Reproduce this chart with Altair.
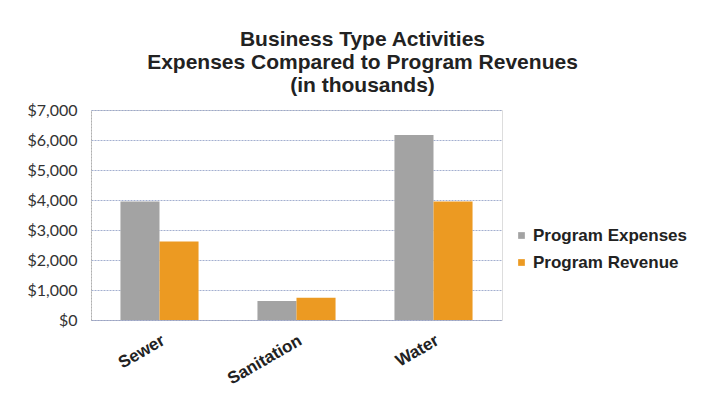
import altair as alt
import pandas as pd

categories = ["Sewer", "Sanitation", "Water"]
series = ["Program Expenses", "Program Revenue"]
expenses = [3950, 630, 6170]
revenue = [2620, 740, 3950]
y_ticks = [0, 1000, 2000, 3000, 4000, 5000, 6000, 7000]
colors = ["#A3A3A3", "#EC9A22"]

rows = []
for c, e, r in zip(categories, expenses, revenue):
    rows.append({"Activity": c, "Series": series[0], "Value": e})
    rows.append({"Activity": c, "Series": series[1], "Value": r})
df = pd.DataFrame(rows)

chart = (
    alt.Chart(df)
    .mark_bar()
    .encode(
        x=alt.X(
            "Activity:N",
            sort=categories,
            title=None,
            scale=alt.Scale(paddingInner=0.43, paddingOuter=0.215),
            axis=alt.Axis(
                labelAngle=-30,
                labelAlign="right",
                labelBaseline="top",
                labelFont="Liberation Sans",
                labelFontWeight="bold",
                labelFontSize=17,
                labelColor="#222222",
                labelPadding=12,
                ticks=False,
                domainColor="#9aa3c4",
                domainDash=[2, 1],
            ),
        ),
        xOffset=alt.XOffset("Series:N", sort=series),
        y=alt.Y(
            "Value:Q",
            title=None,
            scale=alt.Scale(domain=[0, 7000]),
            axis=alt.Axis(
                values=y_ticks,
                format="$,.0f",
                labelFont="Lato",
                labelFontSize=16,
                labelColor="#333333",
                labelPadding=14,
                ticks=False,
                domainColor="#b0b0b0",
                domainDash=[2, 1],
                gridColor="#8c9bc4",
                gridDash=[2, 1],
                gridOpacity=0.8,
            ),
        ),
        color=alt.Color(
            "Series:N",
            sort=series,
            scale=alt.Scale(domain=series, range=colors),
            legend=alt.Legend(
                title=None,
                orient="none",
                legendX=422,
                legendY=117,
                symbolType="square",
                symbolSize=45,
                symbolStrokeWidth=0,
                labelFont="Liberation Sans",
                labelFontWeight="bold",
                labelFontSize=17,
                labelColor="#222222",
                rowPadding=9,
                labelOffset=3,
            ),
        ),
    )
    .properties(
        width=411,
        height=210,
        autosize=alt.AutoSizeParams(type="none"),
        padding={"left": 91, "top": 110, "right": 211, "bottom": 75},
        title=alt.TitleParams(
            text=["Business Type Activities", "Expenses Compared to Program Revenues", "(in thousands)"],
            font="Liberation Sans",
            fontWeight="bold",
            fontSize=21,
            lineHeight=23,
            color="#222222",
            anchor="middle",
            frame="group",
            offset=6,
            dx=66,
        ),
    )
    .configure_view(stroke=None)
    .configure(background="white")
)

chart.save("out.html", embed_options={"renderer": "svg", "actions": False})
